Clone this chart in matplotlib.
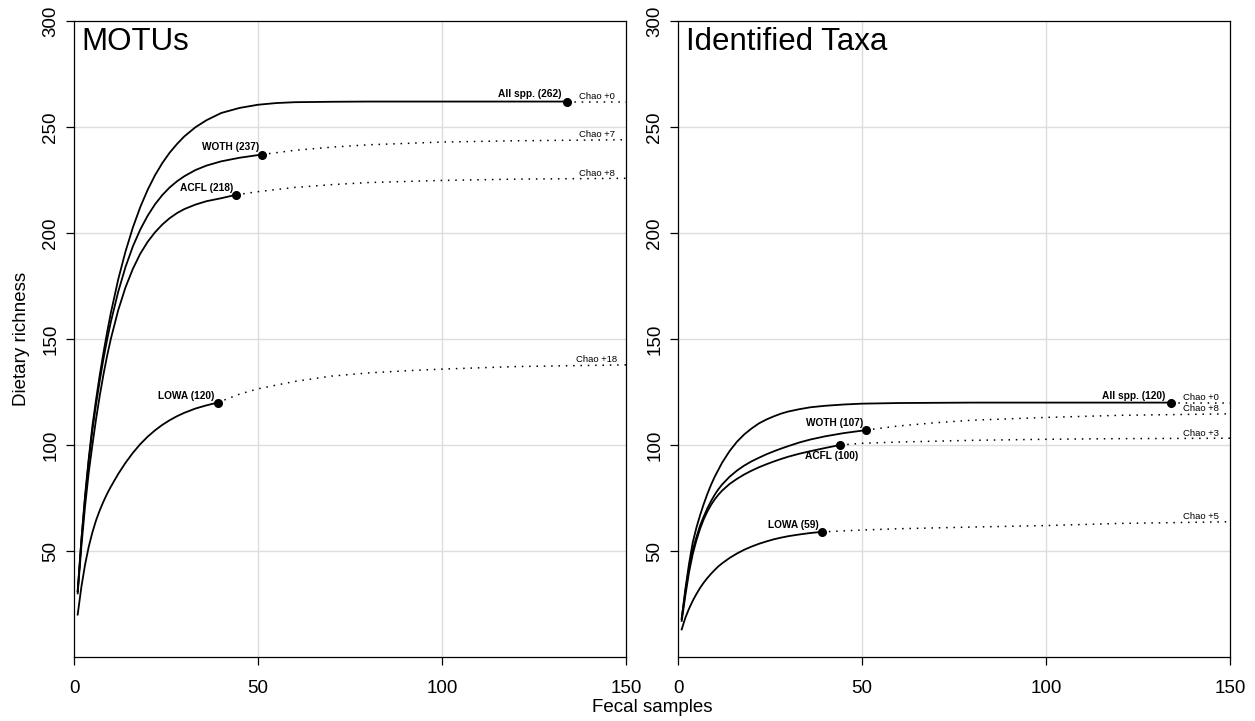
import matplotlib.pyplot as plt

# Rarefaction curves, MOTUs panel (samples, richness)
motu_all_n = [1, 2, 3, 4, 5, 6, 7, 8, 9, 10, 12, 14, 16, 18, 20, 22, 24, 26, 28, 30, 33, 36, 40, 45, 50, 55, 60, 70, 80, 134]
motu_all_s = [31, 55, 76, 93.5, 109, 121.5, 133, 143.5, 153.2, 162.2, 178, 191.3, 202.6, 212.2, 220.3, 227.2, 233, 237.9,
              242, 245.6, 249.9, 253.2, 256.6, 259, 260.5, 261.3, 261.7, 261.9, 262, 262]
motu_woth_n = [1, 2, 3, 4, 5, 6, 7, 8, 9, 10, 12, 14, 16, 18, 20, 22, 24, 26, 28, 30, 33, 36, 40, 45, 51]
motu_woth_s = [31, 55, 75, 92.5, 107, 119.3, 130.4, 140.6, 149.7, 158, 172.2, 184, 193.7, 201.6, 208.1, 213.5, 217.9,
               221.5, 224.4, 226.8, 229.7, 231.8, 233.8, 235.5, 237]
motu_acfl_n = [1, 2, 3, 4, 5, 6, 7, 8, 9, 10, 12, 14, 16, 18, 20, 22, 24, 26, 28, 30, 33, 36, 40, 44]
motu_acfl_s = [30, 52, 71, 87, 100, 112.3, 123.3, 133.2, 142.1, 150, 163.5, 174.4, 183.1, 190.2, 195.8, 200.3, 204,
               207, 209.4, 211.3, 213.4, 215, 216.4, 218]
motu_lowa_n = [1, 2, 3, 4, 5, 6, 7, 8, 9, 10, 12, 14, 16, 18, 20, 22, 24, 26, 28, 30, 33, 36, 39]
motu_lowa_s = [20, 33, 43.5, 52, 58.8, 64.5, 69.2, 73.3, 77, 80.3, 86.3, 91.6, 96.3, 100.4, 103.9, 106.9, 109.5, 111.7,
               113.6, 115.2, 117.2, 118.7, 120]

# Extrapolated parts (dotted) up to 150 samples
motu_all_ext_n = [134, 150]
motu_all_ext_s = [262, 262]
motu_woth_ext_n = [51, 60, 70, 80, 100, 120, 150]
motu_woth_ext_s = [237, 239, 240.5, 241.6, 242.9, 243.5, 244]
motu_acfl_ext_n = [44, 50, 60, 70, 80, 100, 120, 150]
motu_acfl_ext_s = [218, 219.5, 221.5, 222.8, 223.8, 224.8, 225.4, 225.8]
motu_lowa_ext_n = [39, 45, 50, 60, 70, 80, 90, 100, 120, 150]
motu_lowa_ext_s = [120, 124, 126.5, 130, 132.5, 134, 135, 135.8, 137, 137.8]

# Rarefaction curves, identified taxa panel
taxa_all_n = [1, 2, 3, 4, 5, 6, 7, 8, 9, 10, 12, 14, 16, 18, 20, 22, 24, 26, 28, 30, 33, 36, 40, 45, 50, 60, 70, 80, 134]
taxa_all_s = [18, 32, 44, 54, 61, 66.9, 72.2, 77, 81.3, 85.1, 91.7, 97.1, 101.5, 105, 107.8, 110.2, 112, 113.5, 114.8,
              115.8, 116.9, 117.8, 118.5, 119.1, 119.5, 119.8, 119.9, 120, 120]
taxa_woth_n = [1, 2, 3, 4, 5, 6, 7, 8, 9, 10, 11, 12, 14, 16, 18, 20, 22, 24, 26, 28, 30, 33, 36, 40, 45, 51]
taxa_woth_s = [18, 31, 42, 50.5, 56.5, 62, 66.3, 70.2, 73.6, 76.6, 79.2, 81.4, 85, 87.9, 90.3, 92.3, 94, 95.6, 97,
               98.3, 99.5, 101.2, 102.6, 104.1, 105.6, 107]
taxa_acfl_n = [1, 2, 3, 4, 5, 6, 7, 8, 9, 10, 11, 12, 14, 16, 18, 20, 22, 24, 26, 28, 30, 33, 36, 40, 44]
taxa_acfl_s = [17, 29, 40, 48.5, 55, 60.5, 65, 68.7, 71.8, 74.4, 76.6, 78.5, 81.6, 84, 86.1, 87.9, 89.5, 90.9, 92.2,
               93.4, 94.5, 95.9, 97.1, 98.6, 100]
taxa_lowa_n = [1, 2, 3, 4, 5, 6, 7, 8, 9, 10, 11, 12, 14, 16, 18, 20, 22, 24, 26, 28, 30, 33, 36, 39]
taxa_lowa_s = [13, 18.5, 22.8, 26.5, 29.7, 32.6, 35.1, 37.3, 39.3, 41.1, 42.8, 44.2, 46.7, 48.8, 50.6, 52.1, 53.4,
               54.5, 55.5, 56.3, 57, 57.8, 58.5, 59]

taxa_all_ext_n = [134, 150]
taxa_all_ext_s = [120, 120]
taxa_woth_ext_n = [51, 60, 70, 80, 100, 120, 150]
taxa_woth_ext_s = [107, 109, 110.5, 111.7, 113, 114, 114.7]
taxa_acfl_ext_n = [44, 50, 60, 80, 100, 120, 150]
taxa_acfl_ext_s = [100, 100.8, 101.4, 102.2, 102.7, 103, 103.2]
taxa_lowa_ext_n = [39, 50, 60, 80, 100, 120, 150]
taxa_lowa_ext_s = [59, 59.9, 60.5, 61.3, 62, 63, 63.8]

# Labels
group_names = ['All spp.', 'WOTH', 'ACFL', 'LOWA']
motu_chao = [0, 7, 8, 18]
taxa_chao = [0, 8, 3, 5]

# Tick values
x_ticks = [0, 50, 100, 150]
y_ticks = [50, 100, 150, 200, 250, 300]

plt.rcParams['font.family'] = ['Liberation Sans', 'DejaVu Sans']

fig = plt.figure(figsize=(12.55, 7.21), dpi=100)
ax_left = fig.add_axes([74 / 1255, 1 - 657 / 721, 552 / 1255, 636 / 721])
ax_right = fig.add_axes([678 / 1255, 1 - 657 / 721, 552 / 1255, 636 / 721])


def draw_panel(ax, title, curves, exts, chao, label_offsets):
    ax.set_xlim(0, 150)
    ax.set_ylim(0, 300)
    # light grid like the original
    for gx in [50, 100]:
        ax.axvline(gx, color='#dddddd', lw=1.0, zorder=0)
    for gy in [50, 100, 150, 200, 250]:
        ax.axhline(gy, color='#dddddd', lw=1.0, zorder=0)

    for (n, s), (en, es), name, c, off in zip(curves, exts, group_names, chao, label_offsets):
        ax.plot(n, s, color='black', lw=1.3, solid_joinstyle='round', zorder=3)
        ax.plot(en, es, color='black', lw=1.1, linestyle=(0, (1, 3.8)), zorder=3)
        ax.plot(n[-1], s[-1], 'o', color='black', markersize=5.5, zorder=4)
        dx, dy, ha, va = off
        ax.annotate('%s (%d)' % (name, round(s[-1])), (n[-1], s[-1]),
                    xytext=(dx, dy), textcoords='offset points',
                    ha=ha, va=va, fontsize=7.3, fontweight='bold')
        ax.annotate('Chao +%d' % c, (142, es[-1]), xytext=(0, 0.5),
                    textcoords='offset points', ha='center', va='bottom',
                    fontsize=6.8)

    ax.text(0.014, 0.99, title, transform=ax.transAxes, ha='left', va='top', fontsize=22.5)

    ax.set_xticks(x_ticks)
    ax.set_yticks(y_ticks)
    ax.tick_params(axis='both', direction='out', length=5.5, width=0.9,
                   labelsize=13.5, top=False, right=False)
    ax.tick_params(axis='x', pad=11)
    ax.tick_params(axis='y', pad=5)
    for lab in ax.get_yticklabels():
        lab.set_rotation(90)
        lab.set_va('center')
    for sp in ax.spines.values():
        sp.set_linewidth(0.9)
        sp.set_color('black')


# MOTUs panel
draw_panel(
    ax_left, 'MOTUs',
    [(motu_all_n, motu_all_s), (motu_woth_n, motu_woth_s),
     (motu_acfl_n, motu_acfl_s), (motu_lowa_n, motu_lowa_s)],
    [(motu_all_ext_n, motu_all_ext_s), (motu_woth_ext_n, motu_woth_ext_s),
     (motu_acfl_ext_n, motu_acfl_ext_s), (motu_lowa_ext_n, motu_lowa_ext_s)],
    motu_chao,
    [(-4, 1.5, 'right', 'bottom'), (-2, 1.5, 'right', 'bottom'),
     (-2, 1.5, 'right', 'bottom'), (-2, 1.5, 'right', 'bottom')],
)

# Identified taxa panel
draw_panel(
    ax_right, 'Identified Taxa',
    [(taxa_all_n, taxa_all_s), (taxa_woth_n, taxa_woth_s),
     (taxa_acfl_n, taxa_acfl_s), (taxa_lowa_n, taxa_lowa_s)],
    [(taxa_all_ext_n, taxa_all_ext_s), (taxa_woth_ext_n, taxa_woth_ext_s),
     (taxa_acfl_ext_n, taxa_acfl_ext_s), (taxa_lowa_ext_n, taxa_lowa_ext_s)],
    taxa_chao,
    [(-4, 1.5, 'right', 'bottom'), (-2, 1.5, 'right', 'bottom'),
     (-6, -4, 'center', 'top'), (-2, 1.5, 'right', 'bottom')],
)

fig.text(22 / 1255, 1 - 339 / 721, 'Dietary richness', rotation=90,
         ha='center', va='center', fontsize=13.5)
fig.text(652 / 1255, 1 - 707 / 721, 'Fecal samples', ha='center', va='center', fontsize=13.5)

fig.savefig('out.png', dpi=100)
